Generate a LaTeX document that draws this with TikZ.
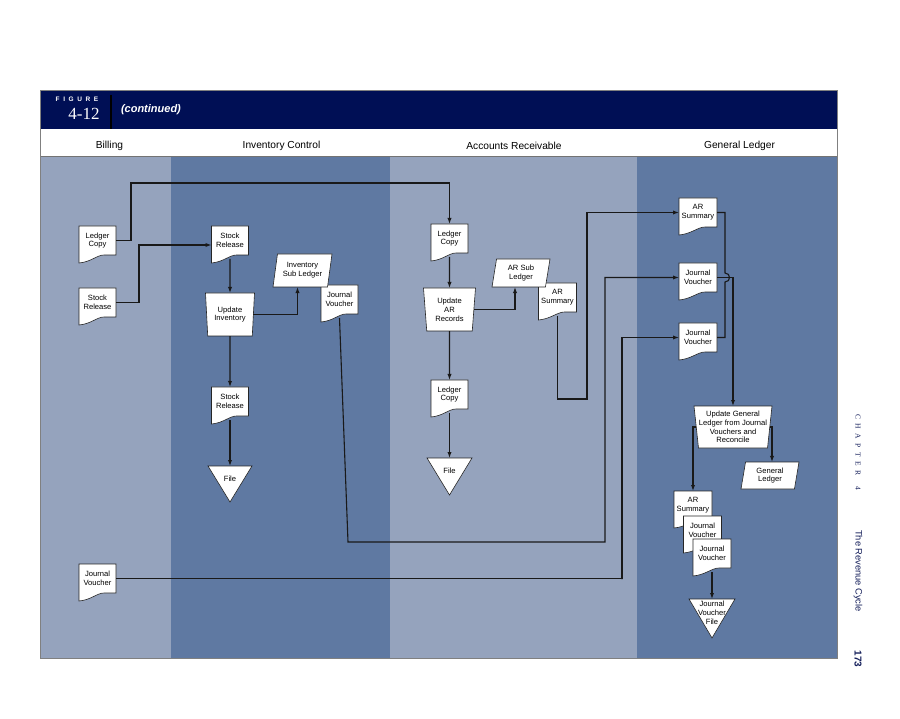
\documentclass[tikz,border=0pt]{standalone}
\usepackage{fontspec}
\setmainfont{Liberation Sans}
\newfontfamily\seriffont{Liberation Serif}
\usetikzlibrary{shapes.geometric,arrows.meta,calc}
\definecolor{navy}{RGB}{0,15,85}
\definecolor{lanelight}{RGB}{149,163,189}
\definecolor{lanedark}{RGB}{95,121,162}
\definecolor{sidetext}{RGB}{20,30,90}
\pgfdeclarelayer{lanes}
\pgfdeclarelayer{shapes}
\pgfsetlayers{lanes,shapes,main}
\newcommand\nodefont{\fontsize{7.6}{8.8}\selectfont}
\newcommand\chapgap{\hspace{4.5pt}}
\newcommand\figgap{\hspace{3.6pt}}
\tikzset{
  every node/.style={inner sep=0pt, outer sep=0pt},
  docnode/.style={minimum width=37pt, minimum height=29pt, align=center, font=\nodefont},
  filenode/.style={minimum width=44pt, minimum height=26pt, align=center, font=\nodefont},
  manop/.style={trapezium, shape border rotate=180, trapezium angle=82, trapezium stretches body,
    draw=black!85, line width=0.6pt, fill=white, minimum width=49pt, minimum height=43pt,
    align=center, font=\nodefont},
  ledger/.style={trapezium, trapezium left angle=74, trapezium right angle=106, trapezium stretches body,
    draw=black!85, line width=0.6pt, fill=white, minimum width=58pt, minimum height=28pt,
    align=center, font=\nodefont},
  shapeline/.style={draw=black!85, line width=0.6pt, fill=white},
  conn/.style={line width=1.1pt, draw=black!90},
  arr/.style={conn, -{Latex[length=6pt,width=4.2pt]}},
  lanelabel/.style={font=\fontsize{10.2}{12}\selectfont},
}
\newcommand\docshape[1]{%
  \begin{pgfonlayer}{shapes}
  \path[shapeline] (#1.north west) -- (#1.north east) -- (#1.south east)
    -- ([xshift=-12pt]#1.south east)
    .. controls ([xshift=-19pt]#1.south east) and ([xshift=12pt,yshift=-7pt]#1.south west)
    .. ([yshift=-8pt]#1.south west) -- cycle;
  \end{pgfonlayer}}
\newcommand\fileshape[2]{%
  \begin{pgfonlayer}{shapes}
  \path[shapeline] (#1.north west) -- (#1.north east) -- ([yshift=-#2]#1.north) -- cycle;
  \end{pgfonlayer}}
\begin{document}
\begin{tikzpicture}[x=1pt,y=-1pt]
\useasboundingbox (0,0) rectangle (900,719);
\begin{pgfonlayer}{lanes}
  \fill[white] (0,0) rectangle (900,719);
  \fill[lanelight] (40,156) rectangle (171,658);
  \fill[lanedark] (171,156) rectangle (390,658);
  \fill[lanelight] (390,156) rectangle (637,658);
  \fill[lanedark] (637,156) rectangle (837,658);
  \fill[navy] (40,90) rectangle (837,129);
  \draw[black!55, line width=0.7pt] (40,156) -- (837,156);
  \draw[black!50, line width=0.5pt] (40,90) rectangle (837,658);
  \draw[black, line width=1.2pt] (111,95) -- (111,129);
\end{pgfonlayer}

% header
\node[text=white, font=\fontsize{6.5}{7}\selectfont\bfseries] (figlabel) at (77,99) {F\figgap I\figgap G\figgap U\figgap R\figgap E};
\node[text=white, font=\seriffont\fontsize{17}{17}\selectfont] (fignum) at (84,114) {4-12};
\node[anchor=west, text=white, font=\fontsize{11}{12}\selectfont\bfseries\itshape] (cont) at (121,110) {(continued)};

\node[lanelabel] (l1) at (109.5,146) {Billing};
\node[lanelabel] (l2) at (281.5,146) {Inventory Control};
\node[lanelabel] (l3) at (514,146) {Accounts Receivable};
\node[lanelabel] (l4) at (739.5,146) {General Ledger};

% side text
\node[rotate=-90, text=sidetext, font=\seriffont\fontsize{7.5}{8}\selectfont] (chap) at (858,452) {C\chapgap H\chapgap A\chapgap P\chapgap T\chapgap E\chapgap R\hspace{11pt}4};
\node[rotate=-90, text=sidetext, font=\fontsize{9.3}{10}\selectfont] (rcycle) at (858,571) {The Revenue Cycle};
\node[rotate=-90, text=sidetext, font=\fontsize{10}{11}\selectfont\bfseries] (pagenum) at (858,659) {173};

% Billing
\node[docnode] (bl) at (97.5,240.5) {Ledger\\Copy};
\node[docnode] (bs) at (97.5,302.5) {Stock\\Release};
\node[docnode] (bj) at (97.5,578.5) {Journal\\Voucher};
% Inventory control
\node[docnode] (is1) at (230,240.5) {Stock\\Release};
\node[manop] (ui) at (230,314.5) {Update\\Inventory};
\node[ledger, minimum width=59pt, minimum height=33pt] (isl) at (302.5,270.5) {Inventory\\Sub Ledger};
\node[docnode] (ij) at (339.5,299.5) {Journal\\Voucher};
\node[docnode] (is2) at (230,401.5) {Stock\\Release};
\node[filenode] (if) at (230,479) {File};
% Accounts receivable
\node[docnode] (al1) at (449.5,238.5) {Ledger\\Copy};
\node[manop, minimum width=52pt] (uar) at (449.5,309.5) {Update\\AR\\Records};
\node[ledger] (asl) at (521,273) {AR Sub\\Ledger};
\node[docnode, minimum width=38pt] (as) at (557.5,297.5) {AR\\Summary};
\node[docnode] (al2) at (449.5,394.5) {Ledger\\Copy};
\node[filenode, minimum width=45pt] (af) at (449.5,471) {File};
% General ledger
\node[docnode, minimum width=38pt] (gas) at (698,212.5) {AR\\Summary};
\node[docnode, minimum width=38pt] (gj1) at (698,277.5) {Journal\\Voucher};
\node[docnode, minimum width=38pt] (gj2) at (698,337.5) {Journal\\Voucher};
\node[manop, minimum width=78pt, minimum height=42pt] (ugl) at (733,427) {Update General\\Ledger from Journal\\Vouchers and\\Reconcile};
\node[ledger, minimum height=27pt] (ggl) at (770,475.5) {General\\Ledger};
\node[docnode, minimum width=38pt] (gs1) at (693,505.5) {AR\\Summary};
\node[docnode, minimum width=38pt] (gs2) at (702.5,530.5) {Journal\\Voucher};
\node[docnode, minimum width=38pt] (gs3) at (712,553.5) {Journal\\Voucher};
\node[filenode, minimum width=46pt, minimum height=28pt] (gjf) at (712,613) {Journal\\Voucher\\File};

% shapes
\docshape{bl}\docshape{bs}\docshape{bj}
\docshape{is1}\docshape{ij}\docshape{is2}
\docshape{al1}\docshape{as}\docshape{al2}
\docshape{gas}\docshape{gj1}\docshape{gj2}
\docshape{gs1}\docshape{gs2}\docshape{gs3}
\fileshape{if}{36pt}
\fileshape{af}{37pt}
\fileshape{gjf}{39pt}

% connectors
\coordinate (k1) at (131,183);
\draw[arr] (bl.east) -| (k1) -| (al1.north);
\coordinate (k2) at (139,245);
\draw[arr] (bs.east) -| (k2) -- (k2 -| is1.west);
\draw[arr] ([yshift=-4pt]is1.south) -- (ui.north);
\draw[arr] (ui.east) -| ([xshift=-5pt]isl.south);
\draw[arr] (ui.south) -- (is2.north);
\draw[arr] ([yshift=-4pt]is2.south) -- (if.north);
\coordinate (k7a) at (348,542);
\coordinate (k7b) at (605,542);
\draw[arr] ([yshift=-4pt]ij.south) -- (k7a) -- (k7b) |- (gj1.west);
\draw[arr] ([yshift=-4pt]al1.south) -- (uar.north);
\draw[arr] (uar.east) -| ([xshift=-6pt]asl.south);
\draw[arr] (uar.south) -- (al2.north);
\draw[arr] ([yshift=-4pt]al2.south) -- (af.north);
\coordinate (k12) at (587,399);
\draw[arr] ([yshift=-4pt]as.south) |- (k12) |- (gas.west);
\coordinate (k13) at (622,579);
\draw[arr] (bj.east) -| (k13) |- (gj2.west);
\coordinate (k14a) at (725,273);
\coordinate (k14b) at (725,282);
\draw[conn] (gas.east) -| (k14a) .. controls (731,273) and (731,282) .. (k14b) |- (gj2.east);
\draw[arr] (gj1.east) -| (ugl.north);
\draw[arr] (ugl.west) -| (gs1.north);
\draw[arr] (ugl.east) -| ([xshift=2pt]ggl.north);
\draw[arr] ([yshift=-4pt]gs3.south) -- (gjf.north);
\end{tikzpicture}
\end{document}
